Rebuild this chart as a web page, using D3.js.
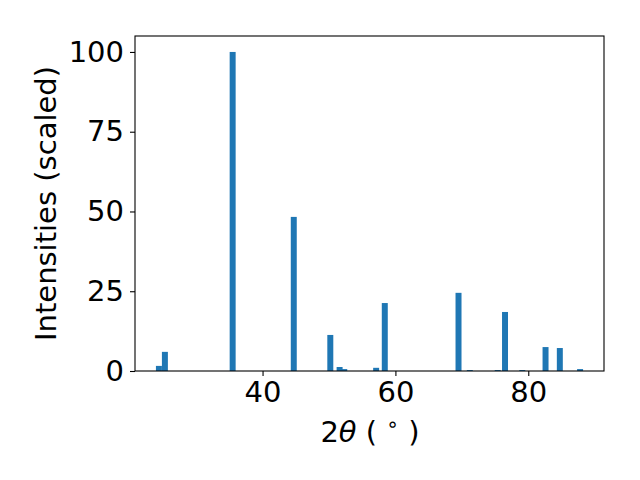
<!DOCTYPE html>
<html>
<head>
<meta charset="utf-8">
<script src="https://cdn.jsdelivr.net/npm/d3@7"></script>
<style>
  body { margin: 0; background: #fff; }
  svg text { font-family: "DejaVu Sans", sans-serif; fill: #000; }
</style>
</head>
<body>
<div id="app"></div>
<script>
// peak positions (2theta, degrees) and scaled intensities
const twoTheta = [24.4, 25.3, 35.5, 44.7, 50.2, 51.6, 52.3, 57.1, 58.4, 69.5, 71.2, 75.4, 76.5, 79.1, 82.6, 84.75, 87.8];
const intensity = [1.6, 6.0, 100, 48.3, 11.3, 1.25, 0.6, 1.0, 21.3, 24.5, 0.3, 0.3, 18.5, 0.3, 7.5, 7.2, 0.6];
const xTicks = [40, 60, 80];
const yTicks = [0, 25, 50, 75, 100];

const render = () => {
  const width = 640;
  const height = 480;
  const margin = { left: 135, right: 36, top: 36, bottom: 109 };
  const barWidth = 0.9;
  const fontSize = 29;

  const data = twoTheta.map((t, i) => ({ t, v: intensity[i] }));

  const svg = d3.select('#app').append('svg')
    .attr('width', width)
    .attr('height', height);

  const x = d3.scaleLinear()
    .domain([20.8, 91.4])
    .range([margin.left, width - margin.right]);

  const y = d3.scaleLinear()
    .domain([0, 105])
    .range([height - margin.bottom, margin.top]);

  svg.append('g')
    .selectAll('rect')
    .data(data)
    .join('rect')
    .attr('x', d => x(d.t - barWidth / 2))
    .attr('width', d => x(d.t + barWidth / 2) - x(d.t - barWidth / 2))
    .attr('y', d => y(d.v))
    .attr('height', d => y(0) - y(d.v))
    .attr('fill', '#1f77b4');

  // frame
  svg.append('rect')
    .attr('x', margin.left)
    .attr('y', margin.top)
    .attr('width', width - margin.left - margin.right)
    .attr('height', height - margin.top - margin.bottom)
    .attr('fill', 'none')
    .attr('stroke', '#000')
    .attr('stroke-width', 1.1);

  const xAxis = d3.axisBottom(x).tickValues(xTicks).tickSize(5).tickPadding(5);
  const gx = svg.append('g')
    .attr('transform', `translate(0, ${height - margin.bottom})`)
    .call(xAxis);
  gx.select('.domain').remove();
  gx.selectAll('.tick line').attr('stroke-width', 1.1);
  gx.selectAll('.tick text')
    .attr('font-size', fontSize)
    .attr('font-family', '"DejaVu Sans", sans-serif');

  const yAxis = d3.axisLeft(y).tickValues(yTicks).tickSize(5).tickPadding(6);
  const gy = svg.append('g')
    .attr('transform', `translate(${margin.left}, 0)`)
    .call(yAxis);
  gy.select('.domain').remove();
  gy.selectAll('.tick line').attr('stroke-width', 1.1);
  gy.selectAll('.tick text')
    .attr('font-size', fontSize)
    .attr('font-family', '"DejaVu Sans", sans-serif');

  // x label: 2θ (°)
  const xl = svg.append('text')
    .attr('x', 370)
    .attr('y', 442)
    .attr('text-anchor', 'middle')
    .attr('font-size', fontSize);
  xl.append('tspan').text('2');
  xl.append('tspan').attr('font-style', 'italic').text('θ');
  xl.append('tspan').text(' ( ');
  xl.append('tspan').attr('font-size', fontSize * 0.7).attr('dy', -11).text('∘');
  xl.append('tspan').attr('dy', 11).text(' )');

  svg.append('text')
    .attr('transform', `translate(56, ${(margin.top + height - margin.bottom) / 2}) rotate(-90)`)
    .attr('text-anchor', 'middle')
    .attr('font-size', fontSize)
    .text('Intensities (scaled)');
};

document.addEventListener('DOMContentLoaded', render);
</script>
</body>
</html>
